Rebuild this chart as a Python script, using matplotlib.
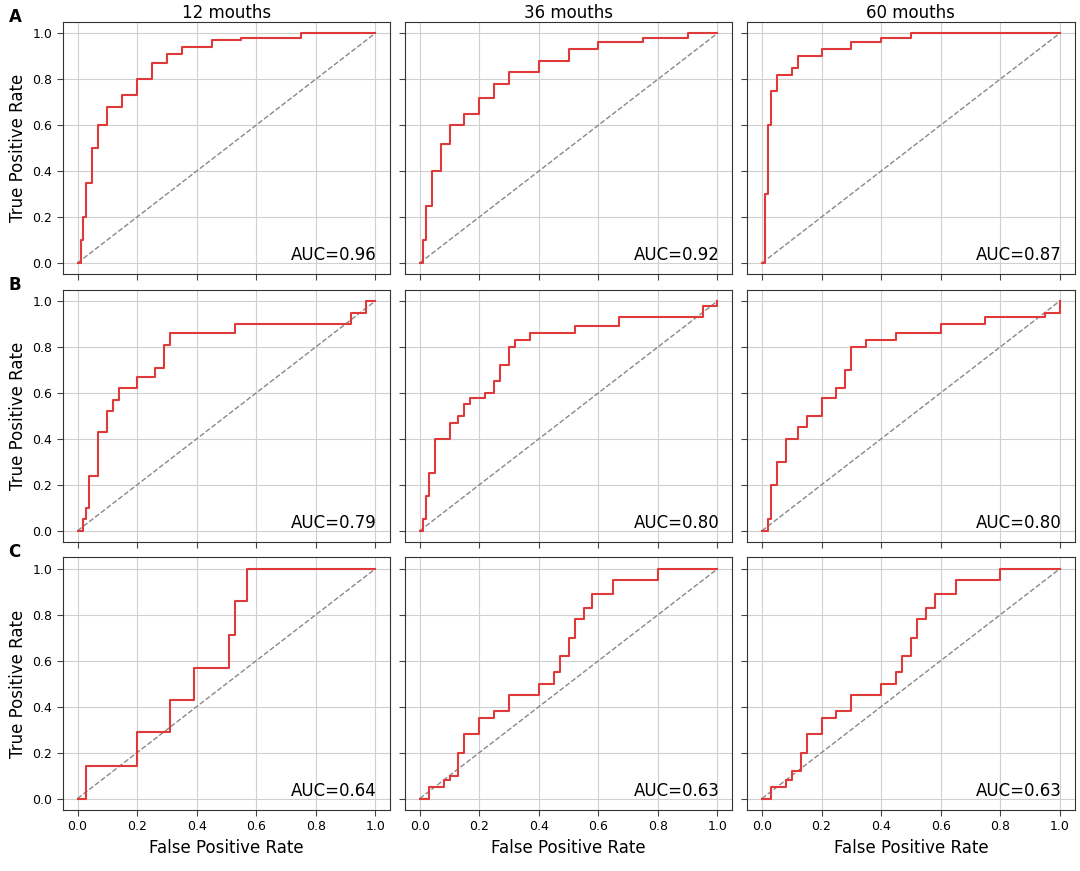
import matplotlib
matplotlib.use("Agg")
import matplotlib.pyplot as plt

titles = ["12 mouths", "36 mouths", "60 mouths"]
row_labels = ["A", "B", "C"]
auc = [["0.96", "0.92", "0.87"], ["0.79", "0.80", "0.80"], ["0.64", "0.63", "0.63"]]

A12_fpr = [0,0.01,0.02,0.03,0.05,0.07,0.1,0.15,0.2,0.25,0.3,0.35,0.45,0.55,0.75,1]
A12_tpr = [0,0.1,0.2,0.35,0.5,0.6,0.68,0.73,0.8,0.87,0.91,0.94,0.97,0.98,1,1]
A36_fpr = [0,0.01,0.02,0.04,0.07,0.1,0.15,0.2,0.25,0.3,0.4,0.5,0.6,0.75,0.9,1]
A36_tpr = [0,0.1,0.25,0.4,0.52,0.6,0.65,0.72,0.78,0.83,0.88,0.93,0.96,0.98,1,1]
A60_fpr = [0,0.01,0.02,0.03,0.05,0.1,0.12,0.2,0.3,0.4,0.5,1]
A60_tpr = [0,0.3,0.6,0.75,0.82,0.85,0.9,0.93,0.96,0.98,1,1]

B12_fpr = [0,0.02,0.02,0.03,0.03,0.04,0.04,0.07,0.07,0.1,0.1,0.12,0.12,0.14,0.14,0.2,0.2,0.26,0.26,0.29,0.29,0.31,0.31,0.53,0.53,0.92,0.92,0.97,0.97,1]
B12_tpr = [0,0,0.05,0.05,0.1,0.1,0.24,0.24,0.43,0.43,0.52,0.52,0.57,0.57,0.62,0.62,0.67,0.67,0.71,0.71,0.81,0.81,0.86,0.86,0.9,0.9,0.95,0.95,1,1]
B36_fpr = [0,0.01,0.02,0.03,0.05,0.05,0.1,0.1,0.13,0.15,0.17,0.22,0.25,0.27,0.3,0.32,0.37,0.5,0.52,0.65,0.67,0.93,0.95,1]
B36_tpr = [0,0.05,0.15,0.25,0.35,0.4,0.4,0.47,0.5,0.55,0.58,0.6,0.65,0.72,0.8,0.83,0.86,0.86,0.89,0.89,0.93,0.93,0.98,1]
B60_fpr = [0,0.02,0.03,0.05,0.08,0.12,0.15,0.2,0.25,0.28,0.3,0.35,0.45,0.58,0.6,0.73,0.75,0.95,1]
B60_tpr = [0,0.05,0.2,0.3,0.4,0.45,0.5,0.58,0.62,0.7,0.8,0.83,0.86,0.86,0.9,0.9,0.93,0.95,1]

C12_fpr = [0,0.03,0.03,0.2,0.2,0.31,0.31,0.39,0.39,0.51,0.51,0.53,0.53,0.57,0.57,1]
C12_tpr = [0,0,0.14,0.14,0.29,0.29,0.43,0.43,0.57,0.57,0.71,0.71,0.86,0.86,1,1]
C36_fpr = [0,0.03,0.08,0.1,0.13,0.15,0.2,0.2,0.25,0.3,0.3,0.4,0.4,0.45,0.47,0.5,0.52,0.55,0.58,0.65,0.65,0.8,0.8,1]
C36_tpr = [0,0.05,0.08,0.1,0.2,0.28,0.28,0.35,0.38,0.38,0.45,0.45,0.5,0.55,0.62,0.7,0.78,0.83,0.89,0.89,0.95,0.95,1,1]
C60_fpr = [0,0.03,0.08,0.1,0.13,0.15,0.2,0.2,0.25,0.3,0.3,0.4,0.4,0.45,0.47,0.5,0.52,0.55,0.58,0.65,0.65,0.8,0.8,1]
C60_tpr = [0,0.05,0.08,0.12,0.2,0.28,0.28,0.35,0.38,0.4,0.45,0.45,0.5,0.55,0.62,0.7,0.78,0.83,0.89,0.89,0.95,0.95,1,1]

curves = [[(A12_fpr, A12_tpr), (A36_fpr, A36_tpr), (A60_fpr, A60_tpr)],
          [(B12_fpr, B12_tpr), (B36_fpr, B36_tpr), (B60_fpr, B60_tpr)],
          [(C12_fpr, C12_tpr), (C36_fpr, C36_tpr), (C60_fpr, C60_tpr)]]

fig, axes = plt.subplots(3, 3, figsize=(10.8, 8.71), dpi=100)
plt.subplots_adjust(left=0.058, right=0.995, top=0.975, bottom=0.07, wspace=0.045, hspace=0.06)
ticks = [0, 0.2, 0.4, 0.6, 0.8, 1.0]
for r in range(3):
    for c in range(3):
        ax = axes[r][c]
        x, y = curves[r][c]
        ax.plot([0, 1], [0, 1], ls="--", color="#888888", lw=1)
        ax.plot(x, y, color="#e0393a", lw=1.5, drawstyle="steps-post")
        ax.set_xlim(-0.05, 1.05); ax.set_ylim(-0.05, 1.05)
        ax.set_xticks(ticks); ax.set_yticks(ticks)
        ax.grid(True, color="#d0d0d0", lw=0.8)
        ax.set_axisbelow(True)
        ax.tick_params(labelsize=9, color="#444444", length=4)
        for s in ax.spines.values():
            s.set_color("#333333")
        ax.text(0.96, 0.04, "AUC=" + auc[r][c], transform=ax.transAxes, ha="right", va="bottom", fontsize=12)
        if c == 0:
            ax.set_ylabel("True Positive Rate", fontsize=12)
            ax.set_yticklabels([f"{t:.1f}" for t in ticks])
        else:
            ax.set_yticklabels([])
        if r == 2:
            ax.set_xlabel("False Positive Rate", fontsize=12)
            ax.set_xticklabels([f"{t:.1f}" for t in ticks])
        else:
            ax.set_xticklabels([])
        if r == 0:
            ax.set_title(titles[c], fontsize=12, pad=2)
    axes[r][0].text(-0.165, 1.02, row_labels[r], transform=axes[r][0].transAxes, fontsize=12, fontweight="bold", va="center")
fig.savefig("out.png")
